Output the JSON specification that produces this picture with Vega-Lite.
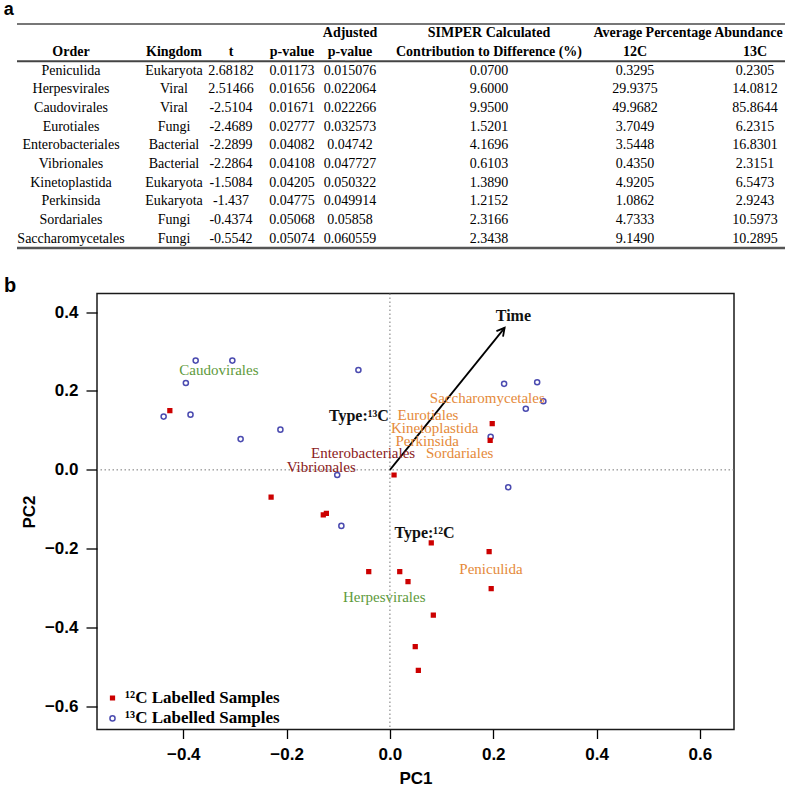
{
  "$schema": "https://vega.github.io/schema/vega-lite/v6.json",
  "padding": {"left": 3, "top": 1, "right": 0, "bottom": -1},
  "background": "white",
  "datasets": {
    "table": [
      {"Order": "Peniculida", "Kingdom": "Eukaryota", "t": 2.68182, "p": 0.01173, "adj": 0.015076, "simper": 0.07, "12C": 0.3295, "13C": 0.2305},
      {"Order": "Herpesvirales", "Kingdom": "Viral", "t": 2.51466, "p": 0.01656, "adj": 0.022064, "simper": 9.6, "12C": 29.9375, "13C": 14.0812},
      {"Order": "Caudovirales", "Kingdom": "Viral", "t": -2.5104, "p": 0.01671, "adj": 0.022266, "simper": 9.95, "12C": 49.9682, "13C": 85.8644},
      {"Order": "Eurotiales", "Kingdom": "Fungi", "t": -2.4689, "p": 0.02777, "adj": 0.032573, "simper": 1.5201, "12C": 3.7049, "13C": 6.2315},
      {"Order": "Enterobacteriales", "Kingdom": "Bacterial", "t": -2.2899, "p": 0.04082, "adj": 0.04742, "simper": 4.1696, "12C": 3.5448, "13C": 16.8301},
      {"Order": "Vibrionales", "Kingdom": "Bacterial", "t": -2.2864, "p": 0.04108, "adj": 0.047727, "simper": 0.6103, "12C": 0.435, "13C": 2.3151},
      {"Order": "Kinetoplastida", "Kingdom": "Eukaryota", "t": -1.5084, "p": 0.04205, "adj": 0.050322, "simper": 1.389, "12C": 4.9205, "13C": 6.5473},
      {"Order": "Perkinsida", "Kingdom": "Eukaryota", "t": -1.437, "p": 0.04775, "adj": 0.049914, "simper": 1.2152, "12C": 1.0862, "13C": 2.9243},
      {"Order": "Sordariales", "Kingdom": "Fungi", "t": -0.4374, "p": 0.05068, "adj": 0.05858, "simper": 2.3166, "12C": 4.7333, "13C": 10.5973},
      {"Order": "Saccharomycetales", "Kingdom": "Fungi", "t": -0.5542, "p": 0.05074, "adj": 0.060559, "simper": 2.3438, "12C": 9.149, "13C": 10.2895}
    ],
    "header": [
      {"col": "Order", "line": "h2", "text": "Order"},
      {"col": "Kingdom", "line": "h2", "text": "Kingdom"},
      {"col": "t", "line": "h2", "text": "t"},
      {"col": "p", "line": "h2", "text": "p-value"},
      {"col": "adj", "line": "h1", "text": "Adjusted"},
      {"col": "adj", "line": "h2", "text": "p-value"},
      {"col": "simper", "line": "h1", "text": "SIMPER Calculated"},
      {"col": "simper", "line": "h2", "text": "Contribution to Difference (%)"},
      {"col": "abund", "line": "h1", "text": "Average Percentage Abundance"},
      {"col": "abund", "line": "h2", "text": "12C", "grp": "12C"},
      {"col": "abund", "line": "h2", "text": "13C", "grp": "13C"}
    ],
    "points": [
      {"PC1": -0.376, "PC2": 0.277, "sample": "¹³C Labelled Samples"},
      {"PC1": -0.305, "PC2": 0.277, "sample": "¹³C Labelled Samples"},
      {"PC1": -0.395, "PC2": 0.220, "sample": "¹³C Labelled Samples"},
      {"PC1": -0.438, "PC2": 0.135, "sample": "¹³C Labelled Samples"},
      {"PC1": -0.386, "PC2": 0.140, "sample": "¹³C Labelled Samples"},
      {"PC1": -0.289, "PC2": 0.078, "sample": "¹³C Labelled Samples"},
      {"PC1": -0.212, "PC2": 0.102, "sample": "¹³C Labelled Samples"},
      {"PC1": -0.061, "PC2": 0.253, "sample": "¹³C Labelled Samples"},
      {"PC1": -0.102, "PC2": -0.013, "sample": "¹³C Labelled Samples"},
      {"PC1": 0.221, "PC2": 0.218, "sample": "¹³C Labelled Samples"},
      {"PC1": 0.285, "PC2": 0.222, "sample": "¹³C Labelled Samples"},
      {"PC1": 0.297, "PC2": 0.174, "sample": "¹³C Labelled Samples"},
      {"PC1": 0.263, "PC2": 0.155, "sample": "¹³C Labelled Samples"},
      {"PC1": 0.195, "PC2": 0.084, "sample": "¹³C Labelled Samples"},
      {"PC1": 0.229, "PC2": -0.044, "sample": "¹³C Labelled Samples"},
      {"PC1": -0.094, "PC2": -0.142, "sample": "¹³C Labelled Samples"},
      {"PC1": -0.426, "PC2": 0.150, "sample": "¹²C Labelled Samples"},
      {"PC1": 0.008, "PC2": -0.013, "sample": "¹²C Labelled Samples"},
      {"PC1": 0.198, "PC2": 0.117, "sample": "¹²C Labelled Samples"},
      {"PC1": 0.194, "PC2": 0.075, "sample": "¹²C Labelled Samples"},
      {"PC1": -0.230, "PC2": -0.069, "sample": "¹²C Labelled Samples"},
      {"PC1": -0.129, "PC2": -0.114, "sample": "¹²C Labelled Samples"},
      {"PC1": -0.123, "PC2": -0.110, "sample": "¹²C Labelled Samples"},
      {"PC1": -0.041, "PC2": -0.258, "sample": "¹²C Labelled Samples"},
      {"PC1": 0.080, "PC2": -0.185, "sample": "¹²C Labelled Samples"},
      {"PC1": 0.192, "PC2": -0.207, "sample": "¹²C Labelled Samples"},
      {"PC1": 0.019, "PC2": -0.258, "sample": "¹²C Labelled Samples"},
      {"PC1": 0.035, "PC2": -0.283, "sample": "¹²C Labelled Samples"},
      {"PC1": 0.196, "PC2": -0.301, "sample": "¹²C Labelled Samples"},
      {"PC1": 0.084, "PC2": -0.368, "sample": "¹²C Labelled Samples"},
      {"PC1": 0.049, "PC2": -0.448, "sample": "¹²C Labelled Samples"},
      {"PC1": 0.055, "PC2": -0.508, "sample": "¹²C Labelled Samples"}
    ],
    "labels": [
      {"label": "Caudovirales", "group": "Viral", "PC1": -0.331, "PC2": 0.254},
      {"label": "Herpesvirales", "group": "Viral", "PC1": -0.011, "PC2": -0.323},
      {"label": "Enterobacteriales", "group": "Bacterial", "PC1": -0.052, "PC2": 0.042},
      {"label": "Vibrionales", "group": "Bacterial", "PC1": -0.133, "PC2": 0.0085},
      {"label": "Eurotiales", "group": "Fungi", "PC1": 0.0737, "PC2": 0.1396},
      {"label": "Kinetoplastida", "group": "Eukaryota", "PC1": 0.0866, "PC2": 0.106},
      {"label": "Perkinsida", "group": "Eukaryota", "PC1": 0.072, "PC2": 0.0736},
      {"label": "Sordariales", "group": "Fungi", "PC1": 0.135, "PC2": 0.042},
      {"label": "Saccharomycetales", "group": "Fungi", "PC1": 0.1885, "PC2": 0.182},
      {"label": "Peniculida", "group": "Eukaryota", "PC1": 0.1956, "PC2": -0.251}
    ],
    "factors": [
      {"label": "Time", "PC1": 0.239, "PC2": 0.389},
      {"label": "Type:¹³C", "PC1": -0.060, "PC2": 0.137},
      {"label": "Type:¹²C", "PC1": 0.067, "PC2": -0.161}
    ],
    "vectors": [
      {"name": "Time", "PC1": 0, "PC2": 0, "PC1end": 0.222, "PC2end": 0.36}
    ]
  },
  "config": {
    "view": {"stroke": "#1a1a1a", "strokeWidth": 1.5},
    "font": "Liberation Sans",
    "axis": {"grid": false, "domain": false, "tickColor": "#000", "tickWidth": 1.3, "labelColor": "#000", "labelFont": "Liberation Sans", "labelFontSize": 17, "labelFontWeight": "bold", "titleFont": "Liberation Sans", "titleFontSize": 17, "titleFontWeight": "bold", "titleColor": "#000", "labelFlush": false, "labelPadding": 8},
    "axisX": {"tickSize": 9, "titlePadding": 8},
    "axisY": {"tickSize": 11, "titlePadding": 6.2}
  },
  "concat": [
    {
      "title": {"text": "a", "anchor": "start", "frame": "bounds", "font": "Liberation Sans", "fontSize": 18, "fontWeight": "bold", "color": "#000", "offset": 4, "dx": -12},
      "spacing": 0,
      "bounds": "flush",
      "hconcat": [
        {
          "width": 108, "height": 224, "view": {"stroke": null},
          "layer": [
            {"data": {"name": "table"}, "mark": {"type": "text", "font": "Liberation Serif", "fontSize": 14, "color": "#000"},
             "encoding": {"y": {"field": "Order", "type": "nominal", "scale": {"type": "band", "domain": ["h1","h2","Peniculida","Herpesvirales","Caudovirales","Eurotiales","Enterobacteriales","Vibrionales","Kinetoplastida","Perkinsida","Sordariales","Saccharomycetales"], "paddingInner": 0, "paddingOuter": 0, "round": false}, "axis": null}, "text": {"field": "Order", "type": "nominal"}}},
            {"data": {"name": "header"}, "transform": [{"filter": "datum.col === 'Order'"}], "mark": {"type": "text", "font": "Liberation Serif", "fontSize": 14, "fontWeight": "bold", "color": "#000"},
             "encoding": {"y": {"field": "line", "type": "nominal", "scale": {"type": "band", "domain": ["h1","h2","Peniculida","Herpesvirales","Caudovirales","Eurotiales","Enterobacteriales","Vibrionales","Kinetoplastida","Perkinsida","Sordariales","Saccharomycetales"], "paddingInner": 0, "paddingOuter": 0, "round": false}, "axis": null}, "text": {"field": "text", "type": "nominal"}}},
            {"data": {"name": "table"}, "transform": [{"aggregate": [{"op": "count", "as": "rows"}]}],
             "layer": [
               {"mark": {"type": "rule", "color": "#777", "strokeWidth": 2}, "encoding": {"y": {"datum": "h1", "type": "nominal", "bandPosition": 0, "axis": null}}},
               {"mark": {"type": "rule", "color": "#444", "strokeWidth": 2}, "encoding": {"y": {"datum": "h2", "type": "nominal", "bandPosition": 1, "axis": null}}},
               {"mark": {"type": "rule", "color": "#555", "strokeWidth": 2.5}, "encoding": {"y": {"datum": "Saccharomycetales", "type": "nominal", "bandPosition": 1, "axis": null}}}
             ]}
          ]
        },
        {
          "width": 98, "height": 224, "view": {"stroke": null},
          "layer": [
            {"data": {"name": "table"}, "mark": {"type": "text", "font": "Liberation Serif", "fontSize": 14, "color": "#000"},
             "encoding": {"y": {"field": "Order", "type": "nominal", "scale": {"type": "band", "domain": ["h1","h2","Peniculida","Herpesvirales","Caudovirales","Eurotiales","Enterobacteriales","Vibrionales","Kinetoplastida","Perkinsida","Sordariales","Saccharomycetales"], "paddingInner": 0, "paddingOuter": 0, "round": false}, "axis": null}, "text": {"field": "Kingdom", "type": "nominal"}}},
            {"data": {"name": "header"}, "transform": [{"filter": "datum.col === 'Kingdom'"}], "mark": {"type": "text", "font": "Liberation Serif", "fontSize": 14, "fontWeight": "bold", "color": "#000"},
             "encoding": {"y": {"field": "line", "type": "nominal", "scale": {"type": "band", "domain": ["h1","h2","Peniculida","Herpesvirales","Caudovirales","Eurotiales","Enterobacteriales","Vibrionales","Kinetoplastida","Perkinsida","Sordariales","Saccharomycetales"], "paddingInner": 0, "paddingOuter": 0, "round": false}, "axis": null}, "text": {"field": "text", "type": "nominal"}}},
            {"data": {"name": "table"}, "transform": [{"aggregate": [{"op": "count", "as": "rows"}]}],
             "layer": [
               {"mark": {"type": "rule", "color": "#777", "strokeWidth": 2}, "encoding": {"y": {"datum": "h1", "type": "nominal", "bandPosition": 0, "axis": null}}},
               {"mark": {"type": "rule", "color": "#444", "strokeWidth": 2}, "encoding": {"y": {"datum": "h2", "type": "nominal", "bandPosition": 1, "axis": null}}},
               {"mark": {"type": "rule", "color": "#555", "strokeWidth": 2.5}, "encoding": {"y": {"datum": "Saccharomycetales", "type": "nominal", "bandPosition": 1, "axis": null}}}
             ]}
          ]
        },
        {
          "width": 16, "height": 224, "view": {"stroke": null},
          "layer": [
            {"data": {"name": "table"}, "mark": {"type": "text", "font": "Liberation Serif", "fontSize": 14, "color": "#000"},
             "encoding": {"y": {"field": "Order", "type": "nominal", "scale": {"type": "band", "domain": ["h1","h2","Peniculida","Herpesvirales","Caudovirales","Eurotiales","Enterobacteriales","Vibrionales","Kinetoplastida","Perkinsida","Sordariales","Saccharomycetales"], "paddingInner": 0, "paddingOuter": 0, "round": false}, "axis": null}, "text": {"field": "t", "type": "nominal"}}},
            {"data": {"name": "header"}, "transform": [{"filter": "datum.col === 't'"}], "mark": {"type": "text", "font": "Liberation Serif", "fontSize": 14, "fontWeight": "bold", "color": "#000"},
             "encoding": {"y": {"field": "line", "type": "nominal", "scale": {"type": "band", "domain": ["h1","h2","Peniculida","Herpesvirales","Caudovirales","Eurotiales","Enterobacteriales","Vibrionales","Kinetoplastida","Perkinsida","Sordariales","Saccharomycetales"], "paddingInner": 0, "paddingOuter": 0, "round": false}, "axis": null}, "text": {"field": "text", "type": "nominal"}}},
            {"data": {"name": "table"}, "transform": [{"aggregate": [{"op": "count", "as": "rows"}]}],
             "layer": [
               {"mark": {"type": "rule", "color": "#777", "strokeWidth": 2}, "encoding": {"y": {"datum": "h1", "type": "nominal", "bandPosition": 0, "axis": null}}},
               {"mark": {"type": "rule", "color": "#444", "strokeWidth": 2}, "encoding": {"y": {"datum": "h2", "type": "nominal", "bandPosition": 1, "axis": null}}},
               {"mark": {"type": "rule", "color": "#555", "strokeWidth": 2.5}, "encoding": {"y": {"datum": "Saccharomycetales", "type": "nominal", "bandPosition": 1, "axis": null}}}
             ]}
          ]
        },
        {
          "width": 106, "height": 224, "view": {"stroke": null},
          "layer": [
            {"data": {"name": "table"}, "mark": {"type": "text", "font": "Liberation Serif", "fontSize": 14, "color": "#000"},
             "encoding": {"y": {"field": "Order", "type": "nominal", "scale": {"type": "band", "domain": ["h1","h2","Peniculida","Herpesvirales","Caudovirales","Eurotiales","Enterobacteriales","Vibrionales","Kinetoplastida","Perkinsida","Sordariales","Saccharomycetales"], "paddingInner": 0, "paddingOuter": 0, "round": false}, "axis": null}, "text": {"field": "p", "type": "nominal"}}},
            {"data": {"name": "header"}, "transform": [{"filter": "datum.col === 'p'"}], "mark": {"type": "text", "font": "Liberation Serif", "fontSize": 14, "fontWeight": "bold", "color": "#000"},
             "encoding": {"y": {"field": "line", "type": "nominal", "scale": {"type": "band", "domain": ["h1","h2","Peniculida","Herpesvirales","Caudovirales","Eurotiales","Enterobacteriales","Vibrionales","Kinetoplastida","Perkinsida","Sordariales","Saccharomycetales"], "paddingInner": 0, "paddingOuter": 0, "round": false}, "axis": null}, "text": {"field": "text", "type": "nominal"}}},
            {"data": {"name": "table"}, "transform": [{"aggregate": [{"op": "count", "as": "rows"}]}],
             "layer": [
               {"mark": {"type": "rule", "color": "#777", "strokeWidth": 2}, "encoding": {"y": {"datum": "h1", "type": "nominal", "bandPosition": 0, "axis": null}}},
               {"mark": {"type": "rule", "color": "#444", "strokeWidth": 2}, "encoding": {"y": {"datum": "h2", "type": "nominal", "bandPosition": 1, "axis": null}}},
               {"mark": {"type": "rule", "color": "#555", "strokeWidth": 2.5}, "encoding": {"y": {"datum": "Saccharomycetales", "type": "nominal", "bandPosition": 1, "axis": null}}}
             ]}
          ]
        },
        {
          "width": 10, "height": 224, "view": {"stroke": null},
          "layer": [
            {"data": {"name": "table"}, "mark": {"type": "text", "font": "Liberation Serif", "fontSize": 14, "color": "#000"},
             "encoding": {"y": {"field": "Order", "type": "nominal", "scale": {"type": "band", "domain": ["h1","h2","Peniculida","Herpesvirales","Caudovirales","Eurotiales","Enterobacteriales","Vibrionales","Kinetoplastida","Perkinsida","Sordariales","Saccharomycetales"], "paddingInner": 0, "paddingOuter": 0, "round": false}, "axis": null}, "text": {"field": "adj", "type": "nominal"}}},
            {"data": {"name": "header"}, "transform": [{"filter": "datum.col === 'adj'"}], "mark": {"type": "text", "font": "Liberation Serif", "fontSize": 14, "fontWeight": "bold", "color": "#000"},
             "encoding": {"y": {"field": "line", "type": "nominal", "scale": {"type": "band", "domain": ["h1","h2","Peniculida","Herpesvirales","Caudovirales","Eurotiales","Enterobacteriales","Vibrionales","Kinetoplastida","Perkinsida","Sordariales","Saccharomycetales"], "paddingInner": 0, "paddingOuter": 0, "round": false}, "axis": null}, "text": {"field": "text", "type": "nominal"}}},
            {"data": {"name": "table"}, "transform": [{"aggregate": [{"op": "count", "as": "rows"}]}],
             "layer": [
               {"mark": {"type": "rule", "color": "#777", "strokeWidth": 2}, "encoding": {"y": {"datum": "h1", "type": "nominal", "bandPosition": 0, "axis": null}}},
               {"mark": {"type": "rule", "color": "#444", "strokeWidth": 2}, "encoding": {"y": {"datum": "h2", "type": "nominal", "bandPosition": 1, "axis": null}}},
               {"mark": {"type": "rule", "color": "#555", "strokeWidth": 2.5}, "encoding": {"y": {"datum": "Saccharomycetales", "type": "nominal", "bandPosition": 1, "axis": null}}}
             ]}
          ]
        },
        {
          "width": 268, "height": 224, "view": {"stroke": null},
          "layer": [
            {"data": {"name": "table"}, "mark": {"type": "text", "font": "Liberation Serif", "fontSize": 14, "color": "#000"},
             "encoding": {"y": {"field": "Order", "type": "nominal", "scale": {"type": "band", "domain": ["h1","h2","Peniculida","Herpesvirales","Caudovirales","Eurotiales","Enterobacteriales","Vibrionales","Kinetoplastida","Perkinsida","Sordariales","Saccharomycetales"], "paddingInner": 0, "paddingOuter": 0, "round": false}, "axis": null}, "text": {"field": "simper", "type": "quantitative", "format": ".4f"}}},
            {"data": {"name": "header"}, "transform": [{"filter": "datum.col === 'simper'"}], "mark": {"type": "text", "font": "Liberation Serif", "fontSize": 14, "fontWeight": "bold", "color": "#000"},
             "encoding": {"y": {"field": "line", "type": "nominal", "scale": {"type": "band", "domain": ["h1","h2","Peniculida","Herpesvirales","Caudovirales","Eurotiales","Enterobacteriales","Vibrionales","Kinetoplastida","Perkinsida","Sordariales","Saccharomycetales"], "paddingInner": 0, "paddingOuter": 0, "round": false}, "axis": null}, "text": {"field": "text", "type": "nominal"}}},
            {"data": {"name": "table"}, "transform": [{"aggregate": [{"op": "count", "as": "rows"}]}],
             "layer": [
               {"mark": {"type": "rule", "color": "#777", "strokeWidth": 2}, "encoding": {"y": {"datum": "h1", "type": "nominal", "bandPosition": 0, "axis": null}}},
               {"mark": {"type": "rule", "color": "#444", "strokeWidth": 2}, "encoding": {"y": {"datum": "h2", "type": "nominal", "bandPosition": 1, "axis": null}}},
               {"mark": {"type": "rule", "color": "#555", "strokeWidth": 2.5}, "encoding": {"y": {"datum": "Saccharomycetales", "type": "nominal", "bandPosition": 1, "axis": null}}}
             ]}
          ]
        },
        {
          "width": 162, "height": 224, "view": {"stroke": null},
          "layer": [
            {"data": {"name": "table"}, "transform": [{"fold": ["12C", "13C"], "as": ["grp", "value"]}], "mark": {"type": "text", "font": "Liberation Serif", "fontSize": 14, "color": "#000"},
             "encoding": {
               "x": {"field": "grp", "type": "nominal", "scale": {"type": "point", "domain": ["12C", "13C"], "padding": 0.175, "align": 0.2857, "round": false}, "axis": null},
               "y": {"field": "Order", "type": "nominal", "scale": {"type": "band", "domain": ["h1","h2","Peniculida","Herpesvirales","Caudovirales","Eurotiales","Enterobacteriales","Vibrionales","Kinetoplastida","Perkinsida","Sordariales","Saccharomycetales"], "paddingInner": 0, "paddingOuter": 0, "round": false}, "axis": null},
               "text": {"field": "value", "type": "quantitative", "format": ".4f"}}},
            {"data": {"name": "header"}, "transform": [{"filter": "datum.col === 'abund' && datum.line === 'h2'"}], "mark": {"type": "text", "font": "Liberation Serif", "fontSize": 14, "fontWeight": "bold", "color": "#000"},
             "encoding": {
               "x": {"field": "grp", "type": "nominal", "scale": {"type": "point", "domain": ["12C", "13C"], "padding": 0.175, "align": 0.2857, "round": false}, "axis": null},
               "y": {"field": "line", "type": "nominal", "scale": {"type": "band", "domain": ["h1","h2","Peniculida","Herpesvirales","Caudovirales","Eurotiales","Enterobacteriales","Vibrionales","Kinetoplastida","Perkinsida","Sordariales","Saccharomycetales"], "paddingInner": 0, "paddingOuter": 0, "round": false}, "axis": null},
               "text": {"field": "text", "type": "nominal"}}},
            {"data": {"name": "header"}, "transform": [{"filter": "datum.col === 'abund' && datum.line === 'h1'"}], "mark": {"type": "text", "font": "Liberation Serif", "fontSize": 14, "fontWeight": "bold", "color": "#000", "dx": -16},
             "encoding": {
               "y": {"field": "line", "type": "nominal", "scale": {"type": "band", "domain": ["h1","h2","Peniculida","Herpesvirales","Caudovirales","Eurotiales","Enterobacteriales","Vibrionales","Kinetoplastida","Perkinsida","Sordariales","Saccharomycetales"], "paddingInner": 0, "paddingOuter": 0, "round": false}, "axis": null},
               "text": {"field": "text", "type": "nominal"}}},
            {"data": {"name": "table"}, "transform": [{"aggregate": [{"op": "count", "as": "rows"}]}],
             "layer": [
               {"mark": {"type": "rule", "color": "#777", "strokeWidth": 2}, "encoding": {"y": {"datum": "h1", "type": "nominal", "bandPosition": 0, "axis": null}}},
               {"mark": {"type": "rule", "color": "#444", "strokeWidth": 2}, "encoding": {"y": {"datum": "h2", "type": "nominal", "bandPosition": 1, "axis": null}}},
               {"mark": {"type": "rule", "color": "#555", "strokeWidth": 2.5}, "encoding": {"y": {"datum": "Saccharomycetales", "type": "nominal", "bandPosition": 1, "axis": null}}}
             ]}
          ]
        }
      ]
    },
    {
      "title": {"text": "b", "anchor": "start", "frame": "bounds", "font": "Liberation Sans", "fontSize": 20, "fontWeight": "bold", "color": "#000", "offset": -4, "dx": -13},
      "spacing": 1,
      "resolve": {
        "scale": {"color": "independent", "shape": "independent", "fill": "independent", "size": "independent"},
        "legend": {"color": "independent", "shape": "independent", "fill": "independent", "size": "independent"}
      },
      "hconcat": [
        {
          "width": 1, "height": 436, "view": {"stroke": null},
          "data": {"values": []},
          "mark": {"type": "point", "opacity": 0},
          "encoding": {}
        },
        {
          "width": 637,
          "height": 436,
          "layer": [
            {"data": {"name": "points"}, "transform": [{"aggregate": [{"op": "count", "as": "n"}]}],
             "layer": [
               {"mark": {"type": "rule", "color": "#777", "strokeWidth": 1, "strokeDash": [1.5, 2.5]},
                "encoding": {"x": {"datum": 0, "type": "quantitative", "scale": {"domain": [-0.567, 0.666], "nice": false, "zero": false}, "axis": {"title": "PC1", "values": [-0.4, -0.2, 0, 0.2, 0.4, 0.6], "format": ".1f"}}}},
               {"mark": {"type": "rule", "color": "#777", "strokeWidth": 1, "strokeDash": [1.5, 2.5]},
                "encoding": {"y": {"datum": 0, "type": "quantitative", "scale": {"domain": [-0.658, 0.447], "nice": false, "zero": false}, "axis": {"title": "PC2", "values": [-0.6, -0.4, -0.2, 0, 0.2, 0.4], "format": ".1f"}}}}
             ]},
            {"data": {"name": "vectors"}, "mark": {"type": "rule", "color": "#000", "strokeWidth": 1.8},
             "encoding": {
               "x": {"field": "PC1", "type": "quantitative", "scale": {"domain": [-0.567, 0.666], "nice": false, "zero": false}, "axis": {"title": "PC1", "values": [-0.4, -0.2, 0, 0.2, 0.4, 0.6], "format": ".1f"}},
               "y": {"field": "PC2", "type": "quantitative", "scale": {"domain": [-0.658, 0.447], "nice": false, "zero": false}, "axis": {"title": "PC2", "values": [-0.6, -0.4, -0.2, 0, 0.2, 0.4], "format": ".1f"}},
               "x2": {"field": "PC1end"},
               "y2": {"field": "PC2end"}}},
            {"data": {"name": "vectors"}, "mark": {"type": "point", "shape": "M-0.6,1.1L0,0L0.6,1.1", "filled": false, "color": "#000", "strokeWidth": 1.8, "size": 200, "angle": 39, "opacity": 1},
             "encoding": {
               "x": {"field": "PC1end", "type": "quantitative", "scale": {"domain": [-0.567, 0.666], "nice": false, "zero": false}, "axis": {"title": "PC1", "values": [-0.4, -0.2, 0, 0.2, 0.4, 0.6], "format": ".1f"}},
               "y": {"field": "PC2end", "type": "quantitative", "scale": {"domain": [-0.658, 0.447], "nice": false, "zero": false}, "axis": {"title": "PC2", "values": [-0.6, -0.4, -0.2, 0, 0.2, 0.4], "format": ".1f"}}}},
            {"data": {"name": "points"}, "mark": {"type": "point", "filled": false, "strokeWidth": 1.5, "opacity": 1},
             "encoding": {
               "x": {"field": "PC1", "type": "quantitative", "scale": {"domain": [-0.567, 0.666], "nice": false, "zero": false}, "axis": {"title": "PC1", "values": [-0.4, -0.2, 0, 0.2, 0.4, 0.6], "format": ".1f"}},
               "y": {"field": "PC2", "type": "quantitative", "scale": {"domain": [-0.658, 0.447], "nice": false, "zero": false}, "axis": {"title": "PC2", "values": [-0.6, -0.4, -0.2, 0, 0.2, 0.4], "format": ".1f"}},
               "shape": {"field": "sample", "type": "nominal", "scale": {"domain": ["¹²C Labelled Samples", "¹³C Labelled Samples"], "range": ["square", "circle"]},
                 "legend": {"title": null, "orient": "bottom-left", "offset": 3, "padding": 0, "rowPadding": 2.4, "symbolOffset": 4, "labelOffset": 4, "labelFont": "Liberation Serif", "labelFontSize": 17, "labelFontWeight": "bold", "labelColor": "#000", "symbolStrokeWidth": 1.5, "labelLimit": 400}},
               "color": {"field": "sample", "type": "nominal", "scale": {"domain": ["¹²C Labelled Samples", "¹³C Labelled Samples"], "range": ["#CC0000", "#4B4BB0"]}},
               "fill": {"field": "sample", "type": "nominal", "scale": {"domain": ["¹²C Labelled Samples", "¹³C Labelled Samples"], "range": ["#CC0000", "transparent"]}},
               "size": {"field": "sample", "type": "ordinal", "scale": {"domain": ["¹²C Labelled Samples", "¹³C Labelled Samples"], "range": [14, 26]}}}},
            {"data": {"name": "labels"}, "mark": {"type": "text", "font": "Liberation Serif", "fontSize": 15},
             "encoding": {
               "x": {"field": "PC1", "type": "quantitative", "scale": {"domain": [-0.567, 0.666], "nice": false, "zero": false}, "axis": {"title": "PC1", "values": [-0.4, -0.2, 0, 0.2, 0.4, 0.6], "format": ".1f"}},
               "y": {"field": "PC2", "type": "quantitative", "scale": {"domain": [-0.658, 0.447], "nice": false, "zero": false}, "axis": {"title": "PC2", "values": [-0.6, -0.4, -0.2, 0, 0.2, 0.4], "format": ".1f"}},
               "text": {"field": "label", "type": "nominal"},
               "color": {"condition": [{"test": "datum.group === 'Viral'", "value": "#5E9A3C"}, {"test": "datum.group === 'Bacterial'", "value": "#8B2020"}], "value": "#E58A3A"}}},
            {"data": {"name": "factors"}, "mark": {"type": "text", "font": "Liberation Serif", "fontSize": 16, "fontWeight": "bold", "color": "#111"},
             "encoding": {
               "x": {"field": "PC1", "type": "quantitative", "scale": {"domain": [-0.567, 0.666], "nice": false, "zero": false}, "axis": {"title": "PC1", "values": [-0.4, -0.2, 0, 0.2, 0.4, 0.6], "format": ".1f"}},
               "y": {"field": "PC2", "type": "quantitative", "scale": {"domain": [-0.658, 0.447], "nice": false, "zero": false}, "axis": {"title": "PC2", "values": [-0.6, -0.4, -0.2, 0, 0.2, 0.4], "format": ".1f"}},
               "text": {"field": "label", "type": "nominal"}}}
          ]
        }
      ]
    }
  ],
  "columns": 1,
  "bounds": "full",
  "spacing": 25.5,
  "resolve": {
    "scale": {"color": "independent", "shape": "independent", "fill": "independent", "size": "independent"},
    "legend": {"color": "independent", "shape": "independent", "fill": "independent", "size": "independent"}
  }
}
